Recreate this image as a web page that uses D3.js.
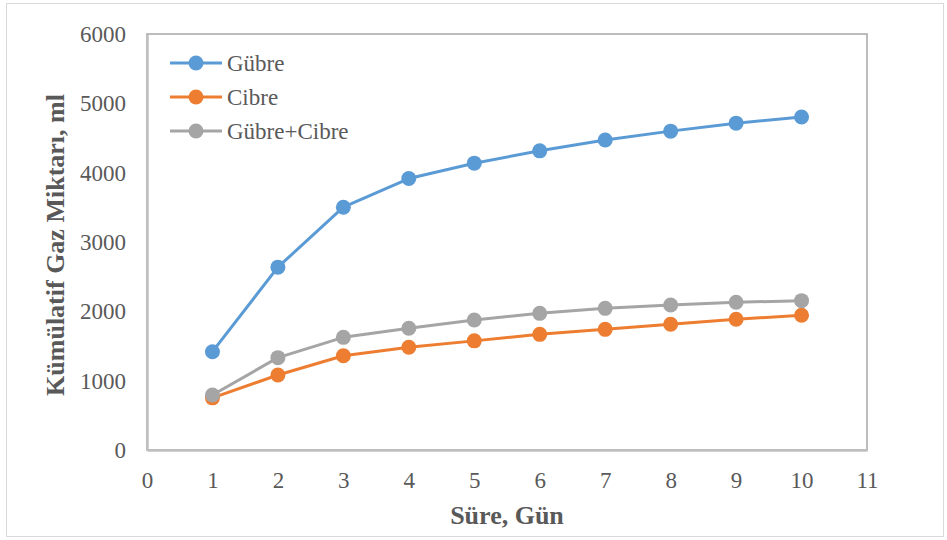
<!DOCTYPE html>
<html><head><meta charset="utf-8">
<script src="https://cdn.jsdelivr.net/npm/d3@7"></script>
<style>body{margin:0;background:#fff}svg{display:block}</style>
</head><body>
<script>
const days = [1,2,3,4,5,6,7,8,9,10];
const gubre = [1418,2637,3502,3915,4137,4315,4471,4599,4714,4802];
const cibre = [752,1082,1360,1481,1574,1668,1740,1813,1885,1943];
const gubreCibre = [793,1332,1625,1755,1875,1971,2043,2091,2130,2154];
const seriesNames = ["Gübre","Cibre","Gübre+Cibre"];
const seriesColors = ["#5B9BD5","#ED7D31","#A5A5A5"];
const xTicks = [0,1,2,3,4,5,6,7,8,9,10,11];
const yTicks = [0,1000,2000,3000,4000,5000,6000];

const W=947,H=540;
const svg=d3.select("body").append("svg").attr("width",W).attr("height",H);
const font="'Liberation Serif','Times New Roman',serif";
const txt="#595959";
svg.append("rect").attr("x",6.5).attr("y",3.5).attr("width",937).attr("height",533)
  .attr("fill","#fff").attr("stroke","#d9d9d9").attr("stroke-width",1);

const L=147,R=867,T=34,B=450;
const x=d3.scaleLinear().domain([0,11]).range([L,R]);
const y=d3.scaleLinear().domain([0,6000]).range([B,T]);

// plot border
svg.append("rect").attr("x",L).attr("y",T).attr("width",R-L).attr("height",B-T)
  .attr("fill","none").attr("stroke","#a6a6a6").attr("stroke-width",1.5);

// axes
const xAxis=svg.append("g").attr("transform",`translate(0,${B})`)
  .call(d3.axisBottom(x).tickValues(xTicks).tickSize(0).tickPadding(22).tickFormat(d3.format("d")));
const yAxis=svg.append("g").attr("transform",`translate(${L},0)`)
  .call(d3.axisLeft(y).tickValues(yTicks).tickSize(0).tickPadding(21).tickFormat(d3.format("d")));
[xAxis,yAxis].forEach(a=>{
  a.select(".domain").attr("stroke","#bfbfbf").attr("stroke-width",2.5);
  a.selectAll("text").attr("font-family",font).attr("font-size",23).attr("fill",txt);
});

const data=[gubre,cibre,gubreCibre];
const line=d3.line().x((d,i)=>x(days[i])).y(d=>y(d));
data.forEach((s,k)=>{
  const g=svg.append("g");
  g.append("path").datum(s).attr("d",line).attr("fill","none")
    .attr("stroke",seriesColors[k]).attr("stroke-width",3).attr("stroke-linejoin","round");
  g.selectAll("circle").data(s).join("circle")
    .attr("cx",(d,i)=>x(days[i])).attr("cy",d=>y(d)).attr("r",7.5).attr("fill",seriesColors[k]);
});

// legend
const lg=svg.append("g");
seriesNames.forEach((n,k)=>{
  const yy=63+k*34;
  lg.append("line").attr("x1",170).attr("x2",222).attr("y1",yy).attr("y2",yy)
    .attr("stroke",seriesColors[k]).attr("stroke-width",3);
  lg.append("circle").attr("cx",196).attr("cy",yy).attr("r",7.5).attr("fill",seriesColors[k]);
  lg.append("text").attr("x",227).attr("y",yy+8).text(n)
    .attr("font-family",font).attr("font-size",23).attr("fill",txt);
});

// titles
svg.append("text").attr("x",(L+R)/2).attr("y",524).attr("text-anchor","middle")
  .attr("font-family",font).attr("font-weight","bold").attr("font-size",26).attr("fill",txt)
  .text("Süre, Gün");
svg.append("text").attr("transform",`translate(64,${(T+B)/2+3}) rotate(-90)`).attr("text-anchor","middle")
  .attr("font-family",font).attr("font-weight","bold").attr("font-size",26).attr("fill",txt)
  .text("Kümülatif Gaz Miktarı, ml");
</script>
</body></html>
